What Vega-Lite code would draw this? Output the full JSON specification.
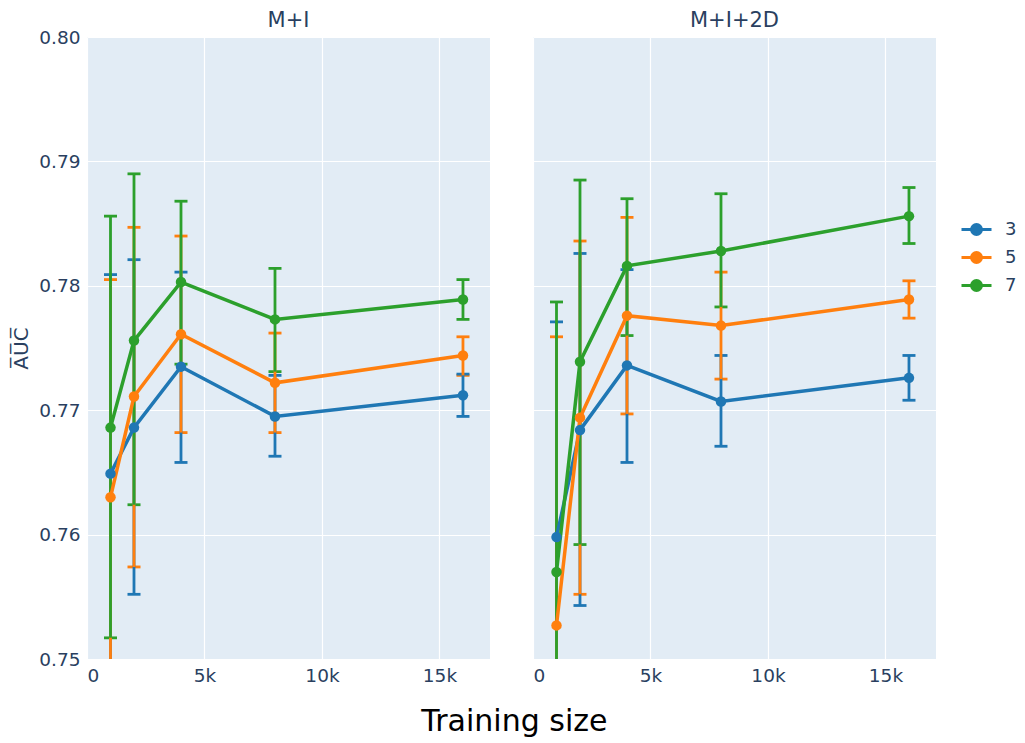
{
  "$schema": "https://vega.github.io/schema/vega-lite/v6.json",
  "background": "white",
  "padding": {"left": 11, "top": 10, "right": 5, "bottom": 5},
  "title": {"text": "Training size", "orient": "bottom", "anchor": "middle", "fontSize": 30, "fontWeight": "normal", "color": "#000000", "offset": 22, "font": "DejaVu Sans"},
  "data": {"values": [
    {"panel": "M+I", "n": "3", "size": 1000, "auc": 0.7649, "lo": 0.7489, "hi": 0.7809},
    {"panel": "M+I", "n": "3", "size": 2000, "auc": 0.7686, "lo": 0.7552, "hi": 0.7821},
    {"panel": "M+I", "n": "3", "size": 4000, "auc": 0.7735, "lo": 0.7658, "hi": 0.7811},
    {"panel": "M+I", "n": "3", "size": 8000, "auc": 0.7695, "lo": 0.7663, "hi": 0.7728},
    {"panel": "M+I", "n": "3", "size": 16000, "auc": 0.7712, "lo": 0.7695, "hi": 0.7729},
    {"panel": "M+I", "n": "5", "size": 1000, "auc": 0.7630, "lo": 0.7455, "hi": 0.7805},
    {"panel": "M+I", "n": "5", "size": 2000, "auc": 0.7711, "lo": 0.7574, "hi": 0.7847},
    {"panel": "M+I", "n": "5", "size": 4000, "auc": 0.7761, "lo": 0.7682, "hi": 0.7840},
    {"panel": "M+I", "n": "5", "size": 8000, "auc": 0.7722, "lo": 0.7682, "hi": 0.7762},
    {"panel": "M+I", "n": "5", "size": 16000, "auc": 0.7744, "lo": 0.7728, "hi": 0.7759},
    {"panel": "M+I", "n": "7", "size": 1000, "auc": 0.7686, "lo": 0.7517, "hi": 0.7856},
    {"panel": "M+I", "n": "7", "size": 2000, "auc": 0.7756, "lo": 0.7624, "hi": 0.7890},
    {"panel": "M+I", "n": "7", "size": 4000, "auc": 0.7803, "lo": 0.7737, "hi": 0.7868},
    {"panel": "M+I", "n": "7", "size": 8000, "auc": 0.7773, "lo": 0.7731, "hi": 0.7814},
    {"panel": "M+I", "n": "7", "size": 16000, "auc": 0.7789, "lo": 0.7773, "hi": 0.7805},
    {"panel": "M+I+2D", "n": "3", "size": 1000, "auc": 0.7598, "lo": 0.7425, "hi": 0.7771},
    {"panel": "M+I+2D", "n": "3", "size": 2000, "auc": 0.7684, "lo": 0.7543, "hi": 0.7826},
    {"panel": "M+I+2D", "n": "3", "size": 4000, "auc": 0.7736, "lo": 0.7658, "hi": 0.7813},
    {"panel": "M+I+2D", "n": "3", "size": 8000, "auc": 0.7707, "lo": 0.7671, "hi": 0.7744},
    {"panel": "M+I+2D", "n": "3", "size": 16000, "auc": 0.7726, "lo": 0.7708, "hi": 0.7744},
    {"panel": "M+I+2D", "n": "5", "size": 1000, "auc": 0.7527, "lo": 0.7295, "hi": 0.7759},
    {"panel": "M+I+2D", "n": "5", "size": 2000, "auc": 0.7694, "lo": 0.7552, "hi": 0.7836},
    {"panel": "M+I+2D", "n": "5", "size": 4000, "auc": 0.7776, "lo": 0.7697, "hi": 0.7855},
    {"panel": "M+I+2D", "n": "5", "size": 8000, "auc": 0.7768, "lo": 0.7725, "hi": 0.7811},
    {"panel": "M+I+2D", "n": "5", "size": 16000, "auc": 0.7789, "lo": 0.7774, "hi": 0.7804},
    {"panel": "M+I+2D", "n": "7", "size": 1000, "auc": 0.7570, "lo": 0.7353, "hi": 0.7787},
    {"panel": "M+I+2D", "n": "7", "size": 2000, "auc": 0.7739, "lo": 0.7592, "hi": 0.7885},
    {"panel": "M+I+2D", "n": "7", "size": 4000, "auc": 0.7816, "lo": 0.7760, "hi": 0.7870},
    {"panel": "M+I+2D", "n": "7", "size": 8000, "auc": 0.7828, "lo": 0.7783, "hi": 0.7874},
    {"panel": "M+I+2D", "n": "7", "size": 16000, "auc": 0.7856, "lo": 0.7834, "hi": 0.7879}
  ]},
  "facet": {"column": {"field": "panel", "type": "nominal", "sort": ["M+I", "M+I+2D"],
    "header": {"title": null, "labelFontSize": 21, "labelColor": "#2a3f5f", "labelFont": "DejaVu Sans", "labelPadding": 6}}},
  "spacing": 43,
  "spec": {
    "width": 403,
    "height": 622,
    "encoding": {
      "x": {"field": "size", "type": "quantitative", "scale": {"domain": [0, 17150], "nice": false, "zero": false},
        "axis": {"values": [0, 5000, 10000, 15000], "labelExpr": "datum.value == 0 ? '0' : format(datum.value / 1000, 'd') + 'k'", "title": null, "labelPadding": 7}},
      "color": {"field": "n", "type": "nominal", "scale": {"domain": ["3", "5", "7"], "range": ["#1f77b4", "#ff7f0e", "#2ca02c"]},
        "legend": {"title": null, "orient": "none", "legendX": 873, "legendY": 176,
          "symbolType": "M-1,0H1M-0.33,0A0.33,0.33 0 1 1 0.33,0A0.33,0.33 0 1 1 -0.33,0Z",
          "symbolSize": 900, "symbolStrokeWidth": 3, "labelFontSize": 18, "labelColor": "#2a3f5f", "labelFont": "DejaVu Sans", "rowPadding": 0, "labelOffset": 12,
          "encode": {"symbols": {"update": {"fill": {"scale": "color", "field": "value"}, "stroke": {"scale": "color", "field": "value"}, "opacity": {"value": 1}}}}}}
    },
    "layer": [
      {"mark": {"type": "errorbar", "ticks": {"opacity": 1}, "rule": {"opacity": 1}, "size": 13, "thickness": 2.8, "clip": true},
        "encoding": {"y": {"field": "lo", "type": "quantitative", "scale": {"domain": [0.75, 0.8], "nice": false, "zero": false},
          "axis": {"values": [0.75, 0.76, 0.77, 0.78, 0.79, 0.8], "format": ".2f", "title": "A\u0305U\u0305C\u0305", "titleFontSize": 20, "titleColor": "#2a3f5f", "titleFontWeight": "normal", "titlePadding": 7, "labelPadding": 7}},
          "y2": {"field": "hi"}}},
      {"mark": {"type": "line", "strokeWidth": 3.5, "clip": true},
        "encoding": {"y": {"field": "auc", "type": "quantitative"}}},
      {"mark": {"type": "point", "filled": true, "size": 110, "opacity": 1, "clip": true},
        "encoding": {"y": {"field": "auc", "type": "quantitative"}}}
    ]
  },
  "config": {
    "font": "DejaVu Sans",
    "view": {"fill": "#E2ECF5", "stroke": null},
    "axis": {"grid": true, "gridColor": "#ffffff", "gridWidth": 1.2, "gridOpacity": 1, "domain": false, "ticks": false,
      "labelFont": "DejaVu Sans", "labelFontSize": 18.5, "labelColor": "#2a3f5f", "titleFont": "DejaVu Sans"}
  }
}
